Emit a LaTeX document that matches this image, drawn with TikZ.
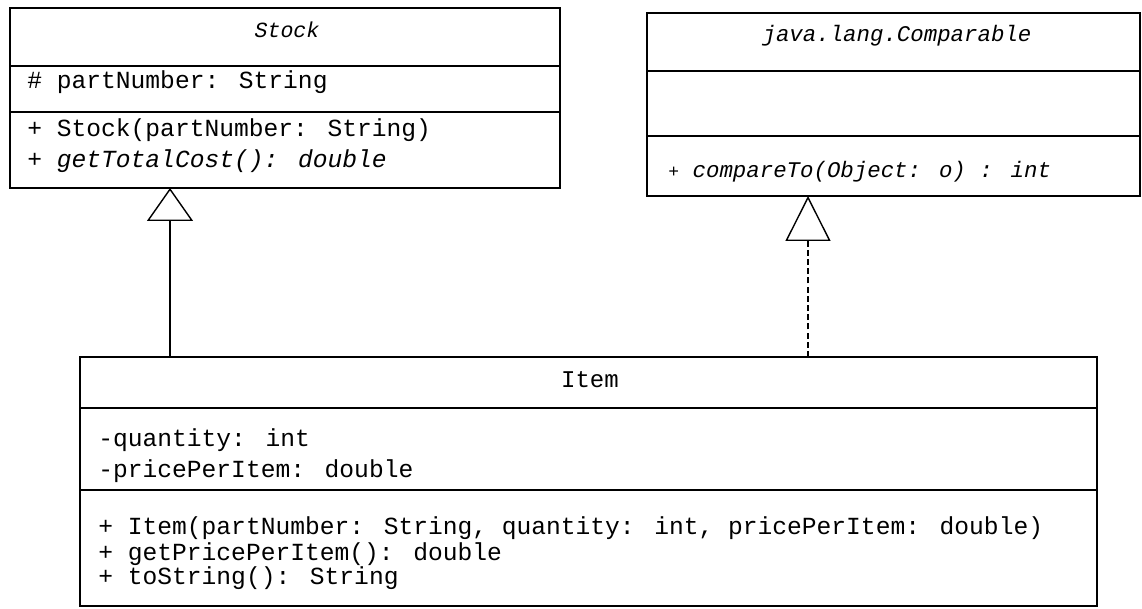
\documentclass[tikz,border=0pt]{standalone}
\usepackage{fontspec}
\newfontfamily\cour{Liberation Mono}
\usetikzlibrary{arrows.meta}
\begin{document}
\begin{tikzpicture}[x=0.5pt,y=-0.5pt,
  box/.style={draw, line width=0.8pt, inner sep=0pt, outer sep=0pt, anchor=north west},
  divider/.style={line width=0.8pt},
  txt/.style={inner sep=0pt, anchor=west, text height=0.75em, text depth=0.25em},
  body/.style={txt, font=\cour\fontsize{12.3}{14}\selectfont},
  small/.style={txt, font=\cour\fontsize{11.2}{13}\selectfont},
  title/.style={inner sep=0pt, anchor=center, text height=0.75em, text depth=0.25em},
  inherit/.style={line width=0.55pt, -{Triangle[open, length=16.5pt, width=23pt, line width=0.7pt]}},
  realize/.style={inherit, dash pattern=on 3pt off 1.6pt, -{Triangle[open, length=22.5pt, width=22.5pt, line width=0.7pt]}}]
\useasboundingbox (0,0) rectangle (1142,609);

% Stock
\node[box, minimum width=275pt, minimum height=90pt] (stock) at (10,8) {};
\draw[divider] (stock.west |- 0,66) -- (stock.east |- 0,66);
\draw[divider] (stock.west |- 0,112) -- (stock.east |- 0,112);
\node[title, font=\cour\itshape\fontsize{10.8}{13}\selectfont] (stockT) at (287,33) {Stock};
\node[body] (stockA) at (27,84) {\# partNumber: String};
\node[body] (stockM1) at (27,132) {+ Stock(partNumber: String)};
\node[body] (stockM2) at (27,163) {+ \itshape getTotalCost(): double};

% Comparable
\node[box, minimum width=246.5pt, minimum height=91.5pt] (comp) at (647,13) {};
\draw[divider] (comp.west |- 0,71) -- (comp.east |- 0,71);
\draw[divider] (comp.west |- 0,136) -- (comp.east |- 0,136);
\node[title, font=\cour\itshape\fontsize{11.2}{13}\selectfont] (compT) at (897,37) {java.lang.Comparable};
\node[small] (compM) at (668,173) {{\fontsize{9}{11}\selectfont+} \itshape compareTo(Object: o) : int};

% Item
\node[box, minimum width=508.5pt, minimum height=124.5pt] (item) at (80,357) {};
\draw[divider] (item.west |- 0,408) -- (item.east |- 0,408);
\draw[divider] (item.west |- 0,490) -- (item.east |- 0,490);
\node[title, font=\cour\fontsize{12}{14}\selectfont] (itemT) at (590,383) {Item};
\node[body] (itemA1) at (98,442) {-quantity: int};
\node[body] (itemA2) at (98,473) {-pricePerItem: double};
\node[body] (itemM1) at (98,530) {+ Item(partNumber: String, quantity: int, pricePerItem: double)};
\node[body] (itemM2) at (98,555) {+ getPricePerItem(): double};
\node[body] (itemM3) at (98,579) {+ toString(): String};

% connectors
\draw[inherit] (item.north -| 170,0) -- (stock.south -| 170,0);
\draw[realize] (item.north -| 808,0) -- (comp.south -| 808,0);
\end{tikzpicture}
\end{document}
